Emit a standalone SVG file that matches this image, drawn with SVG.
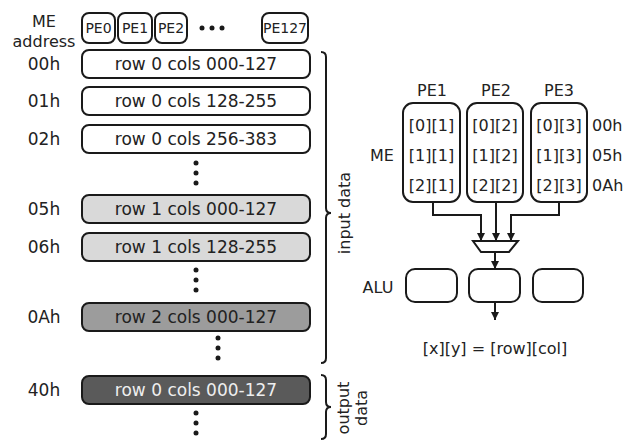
<svg xmlns="http://www.w3.org/2000/svg" width="625" height="441" viewBox="0 0 625 441">
<style>
text{font-family:"DejaVu Sans","Liberation Sans",sans-serif;fill:#222;}
.lbl{font-size:17px;text-anchor:middle;}
.pe{font-size:14px;text-anchor:middle;}
.t16{font-size:16px;}
.mid{text-anchor:middle;}
.box{stroke:#1a1a1a;stroke-width:2;}
.ln{fill:none;stroke:#1a1a1a;stroke-width:2;}
.dot{fill:#1a1a1a;}
</style>
<defs>
<marker id="ah" viewBox="0 0 10 10" refX="10" refY="5" markerWidth="8" markerHeight="9" markerUnits="userSpaceOnUse" orient="auto">
<path d="M0,0 L10,5 L0,10 z" fill="#1a1a1a"/>
</marker>
</defs>
<rect width="625" height="441" fill="#fff"/>

<g id="header">
<text class="t16 mid" x="44" y="27">ME</text>
<text class="t16 mid" x="44" y="47">address</text>
<g id="pe0"><rect class="box" x="82" y="13" width="33" height="30" rx="7" fill="#fff"/><text class="pe" x="98.5" y="33">PE0</text></g>
<g id="pe1h"><rect class="box" x="118" y="13" width="34" height="30" rx="7" fill="#fff"/><text class="pe" x="135" y="33">PE1</text></g>
<g id="pe2h"><rect class="box" x="155" y="13" width="32" height="30" rx="7" fill="#fff"/><text class="pe" x="171" y="33">PE2</text></g>
<circle class="dot" cx="202" cy="28" r="2.5"/><circle class="dot" cx="212" cy="28" r="2.5"/><circle class="dot" cx="222" cy="28" r="2.5"/>
<g id="pe127"><rect class="box" x="262" y="13" width="46" height="30" rx="7" fill="#fff"/><text class="pe" x="285" y="33">PE127</text></g>
</g>

<g id="row00"><text class="lbl" x="44" y="70">00h</text><rect class="box" x="82" y="50" width="228" height="28" rx="7" fill="#fff"/><text class="lbl" x="196" y="70">row 0 cols 000-127</text></g>
<g id="row01"><text class="lbl" x="44" y="107">01h</text><rect class="box" x="82" y="87" width="228" height="28" rx="7" fill="#fff"/><text class="lbl" x="196" y="107">row 0 cols 128-255</text></g>
<g id="row02"><text class="lbl" x="44" y="145">02h</text><rect class="box" x="82" y="125" width="228" height="28" rx="7" fill="#fff"/><text class="lbl" x="196" y="145">row 0 cols 256-383</text></g>
<g id="dots1"><circle class="dot" cx="196" cy="163" r="2.5"/><circle class="dot" cx="196" cy="173" r="2.5"/><circle class="dot" cx="196" cy="183" r="2.5"/></g>
<g id="row05"><text class="lbl" x="44" y="215">05h</text><rect class="box" x="82" y="195" width="228" height="28" rx="7" fill="#d9d9d9"/><text class="lbl" x="196" y="215">row 1 cols 000-127</text></g>
<g id="row06"><text class="lbl" x="44" y="253">06h</text><rect class="box" x="82" y="233" width="228" height="28" rx="7" fill="#d9d9d9"/><text class="lbl" x="196" y="253">row 1 cols 128-255</text></g>
<g id="dots2"><circle class="dot" cx="196" cy="270" r="2.5"/><circle class="dot" cx="196" cy="280" r="2.5"/><circle class="dot" cx="196" cy="290" r="2.5"/></g>
<g id="row0A"><text class="lbl" x="44" y="323">0Ah</text><rect class="box" x="82" y="303" width="228" height="28" rx="7" fill="#9c9c9c"/><text class="lbl" x="196" y="323">row 2 cols 000-127</text></g>
<g id="dots3"><circle class="dot" cx="218" cy="338" r="2.5"/><circle class="dot" cx="218" cy="348" r="2.5"/><circle class="dot" cx="218" cy="358" r="2.5"/></g>
<g id="row40"><text class="lbl" x="44" y="396">40h</text><rect class="box" x="82" y="376" width="228" height="28" rx="7" fill="#5a5a5a"/><text class="lbl" x="196" y="396" style="fill:#eee">row 0 cols 000-127</text></g>
<g id="dots4"><circle class="dot" cx="196" cy="413" r="2.5"/><circle class="dot" cx="196" cy="423" r="2.5"/><circle class="dot" cx="196" cy="433" r="2.5"/></g>

<g id="braces">
<path class="ln" stroke-width="1.6" d="M321,52 Q326,52 326,57 L326,208 Q326,213 331,213 Q326,213 326,218 L326,358 Q326,363 321,363"/>
<text class="t16 mid" transform="translate(350,213) rotate(-90)">input data</text>
<path class="ln" stroke-width="1.6" d="M321,375 Q326,375 326,380 L326,402 Q326,407 331,407 Q326,407 326,412 L326,434 Q326,439 321,439"/>
<text class="t16 mid" transform="translate(349,408) rotate(-90)">output</text>
<text class="t16 mid" transform="translate(367,408) rotate(-90)">data</text>
</g>

<g id="peRight">
<text class="t16 mid" x="432" y="96">PE1</text>
<text class="t16 mid" x="496" y="96">PE2</text>
<text class="t16 mid" x="559" y="96">PE3</text>
<text class="t16 mid" x="382" y="161">ME</text>
<g id="me1"><rect class="box" x="403" y="103" width="57" height="99" rx="10" fill="#fff"/>
<text class="t16 mid" x="431.5" y="131">[0][1]</text><text class="t16 mid" x="431.5" y="161">[1][1]</text><text class="t16 mid" x="431.5" y="191">[2][1]</text></g>
<g id="me2"><rect class="box" x="467" y="103" width="56" height="99" rx="10" fill="#fff"/>
<text class="t16 mid" x="495" y="131">[0][2]</text><text class="t16 mid" x="495" y="161">[1][2]</text><text class="t16 mid" x="495" y="191">[2][2]</text></g>
<g id="me3"><rect class="box" x="531" y="103" width="56" height="99" rx="10" fill="#fff"/>
<text class="t16 mid" x="559" y="131">[0][3]</text><text class="t16 mid" x="559" y="161">[1][3]</text><text class="t16 mid" x="559" y="191">[2][3]</text></g>
<text class="t16" x="592" y="131">00h</text>
<text class="t16" x="592" y="161">05h</text>
<text class="t16" x="592" y="191">0Ah</text>
</g>

<g id="mux"><polygon class="box" points="473,241 518,241 509,252 481,252" fill="#fff"/></g>

<g id="alu">
<text class="t16 mid" x="378" y="293">ALU</text>
<rect class="box" x="406" y="269" width="51" height="33" rx="9" fill="#fff"/>
<rect class="box" x="469" y="269" width="51" height="33" rx="9" fill="#fff"/>
<rect class="box" x="533" y="269" width="50" height="33" rx="9" fill="#fff"/>
</g>

<g id="connectors">
<polyline class="ln" points="433,202 433,215 481,215 481,241" marker-end="url(#ah)"/>
<polyline class="ln" points="496,202 496,241" marker-end="url(#ah)"/>
<polyline class="ln" points="559,202 559,215 511,215 511,241" marker-end="url(#ah)"/>
<polyline class="ln" points="495,252 495,269" marker-end="url(#ah)"/>
<polyline class="ln" points="495,302 495,320" marker-end="url(#ah)"/>
</g>

<text class="t16 mid" x="495" y="354">[x][y] = [row][col]</text>
</svg>
